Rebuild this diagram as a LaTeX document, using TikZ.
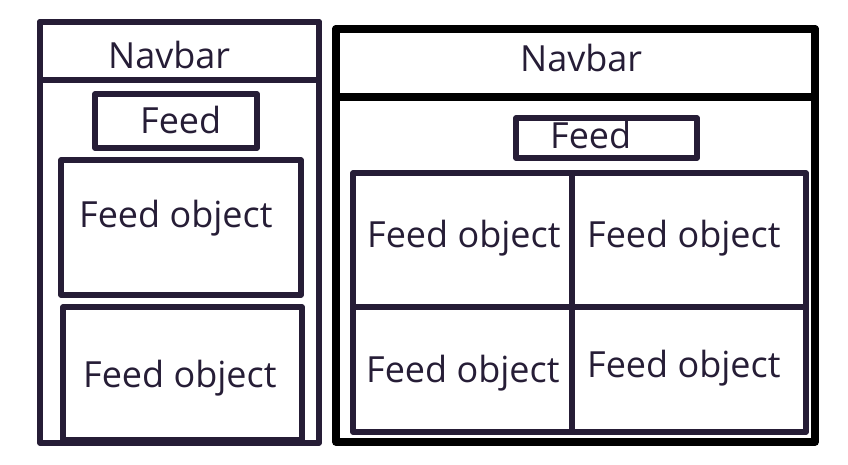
\documentclass[tikz,border=0pt]{standalone}
\usepackage{fontspec}
\setmainfont{Open Sans}
\definecolor{ink}{HTML}{261D36}
\begin{document}
\begin{tikzpicture}[x=1pt,y=-1pt,
  box/.style={draw=ink,line width=5.5pt,line join=round,inner sep=0pt},
  bigframe/.style={draw=black,line width=7.5pt,line join=round,inner sep=0pt},
  lbl/.style={anchor=base west,inner sep=0pt,text=ink,
    font=\fontsize{36}{40}\selectfont}]
\useasboundingbox (0,0) rectangle (848,464);
% ---------- left panel ----------
\node[box,minimum width=279pt,minimum height=421pt] (lframe) at (179.5,232.5) {};
\node[box,minimum width=279pt,minimum height=58pt] (lnavbox) at (179.5,51) {};
\node[box,minimum width=162pt,minimum height=54pt] (lfeedbox) at (176,121) {};
\node[box,minimum width=240pt,minimum height=135pt] (lfo1box) at (181,227.5) {};
\node[box,minimum width=239pt,minimum height=133pt] (lfo2box) at (182.5,373.5) {};
\node[lbl] (lnav) at (108,68) {Navbar};
\node[lbl] (lfeed) at (140,133) {Feed};
\node[lbl] (lfo1) at (79,227) {Feed object};
\node[lbl] (lfo2) at (83,387) {Feed object};
% ---------- right panel ----------
\node[bigframe,minimum width=479pt,minimum height=413pt] (rframe) at (575.5,235.5) {};
\node[bigframe,minimum width=479pt,minimum height=68pt] (rnavbox) at (575.5,63) {};
\node[box,minimum width=181pt,minimum height=40pt] (rfeedbox) at (606.5,138) {};
\node[box,minimum width=219pt,minimum height=134pt] (c1) at (462.5,240) {};
\node[box,minimum width=234pt,minimum height=134pt] (c2) at (689,240) {};
\node[box,minimum width=219pt,minimum height=125pt] (c3) at (462.5,369.5) {};
\node[box,minimum width=234pt,minimum height=125pt] (c4) at (689,369.5) {};
\node[lbl] (rnav) at (520,71) {Navbar};
\node[lbl] (rfeed) at (550,148) {Feed};
\node[lbl] (rfo1) at (367,247) {Feed object};
\node[lbl] (rfo2) at (587,247) {Feed object};
\node[lbl] (rfo3) at (366,382) {Feed object};
\node[lbl] (rfo4) at (587,377) {Feed object};
\end{tikzpicture}
\end{document}
